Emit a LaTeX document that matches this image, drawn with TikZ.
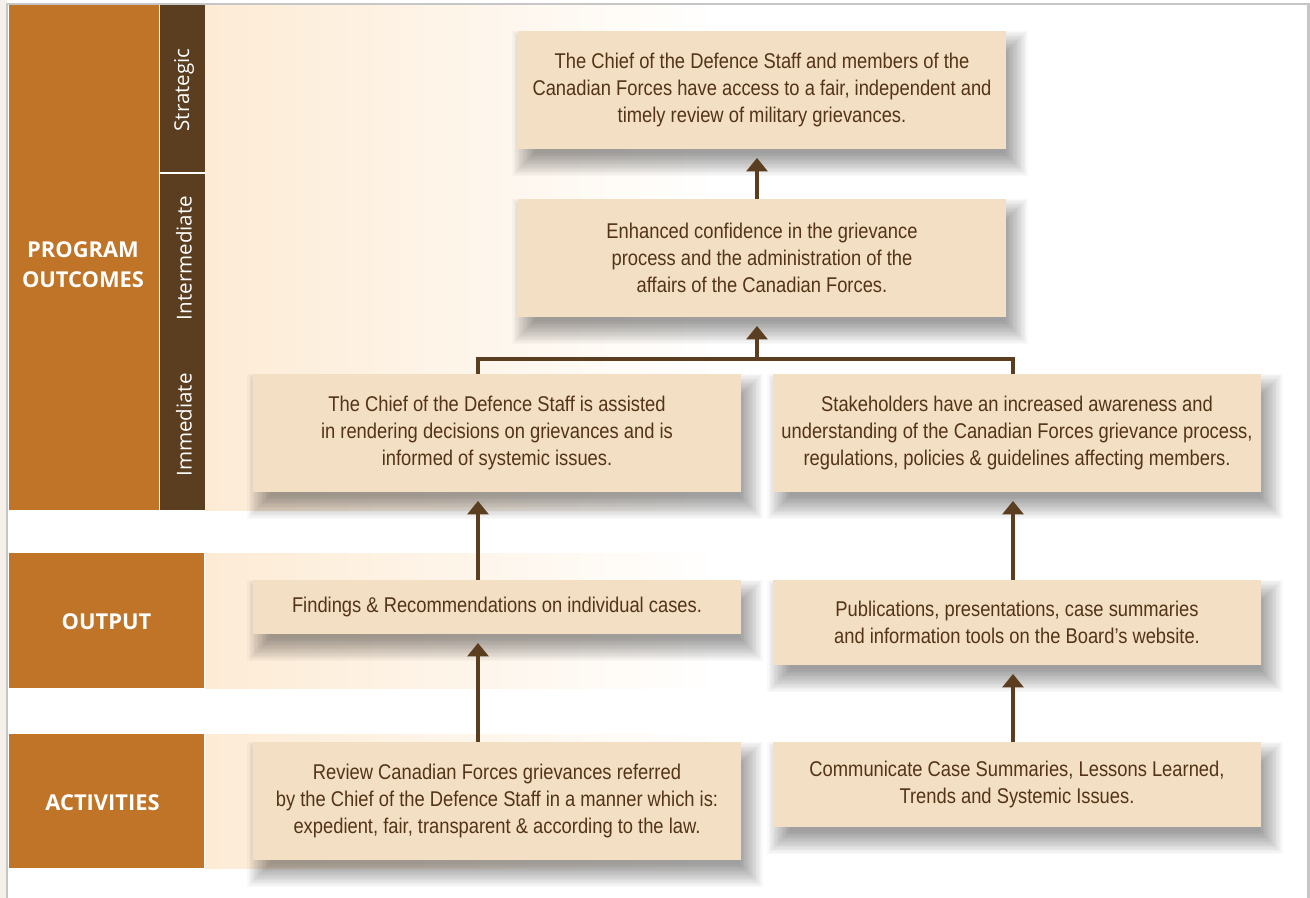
\documentclass[tikz,border=0pt]{standalone}
\usepackage{fontspec}
\setmainfont[FakeStretch=0.86]{Liberation Sans}
\newfontfamily\labfont{Open Sans}
\usetikzlibrary{arrows.meta}
\definecolor{orng}{HTML}{C07428}
\definecolor{brwn}{HTML}{5B3D20}
\definecolor{cream}{HTML}{FDEBD5}
\definecolor{boxfill}{HTML}{F3DFC4}
\definecolor{txt}{HTML}{533417}
\definecolor{framegray}{HTML}{C6C6C6}
\definecolor{outside}{HTML}{F6F0EA}
\pgfdeclarelayer{bg}
\pgfdeclarelayer{shd}
\pgfsetlayers{bg,shd,main}
\newcommand\boxshadow[1]{%
  \foreach \r in {0,1,...,17}{%
    \fill[black,fill opacity=0.024]
      ([xshift={6pt-(\r-7)*1pt}, yshift={-10pt-(\r-7)*1pt}]#1.south west) rectangle
      ([xshift={6pt+(\r-7)*1pt}, yshift={-10pt+(\r-7)*1pt}]#1.north east);}}
\begin{document}
\begin{tikzpicture}[x=0.75pt,y=-0.75pt,
  box/.style={fill=boxfill, text=txt, align=center, minimum width=366pt, inner sep=0pt,
    font=\fontsize{16}{20.25}\selectfont},
  boldlab/.style={text=white, align=center, font=\labfont\bfseries\fontsize{16.4}{22.5}\selectfont},
  rotlab/.style={text=white, rotate=90, font=\labfont\fontsize{15.4}{18}\selectfont},
  arr/.style={draw=brwn, line width=3pt, -{Triangle[width=15.5pt,length=10pt]}, shorten >=6.5pt},
  conn/.style={draw=brwn, line width=3pt, line join=miter}]
\useasboundingbox (0,0) rectangle (1310,898);
\begin{pgfonlayer}{bg}
% background
\fill[white] (0,0) rectangle (1310,898);
\fill[outside] (0,0) rectangle (7,898);
% row bands
\fill[orng] (9,5) rectangle (159,510);
\fill[brwn] (160,5) rectangle (205,172);
\fill[brwn] (160,174) rectangle (205,510);
\shade[left color=cream, right color=white] (205,5) rectangle (720,510);
\fill[orng] (9,553) rectangle (204,688);
\shade[left color=cream, right color=white] (205,553) rectangle (720,688);
\fill[orng] (9,734) rectangle (204,868);
\shade[left color=cream, right color=white] (205,734) rectangle (720,868);
% frame
\draw[framegray, line width=1.6pt] (7,898) -- (7,4) -- (1308.5,4) -- (1308.5,898);
\end{pgfonlayer}
% labels
\node[boldlab] (lprog) at (83,265) {PROGRAM\\OUTCOMES};
\node[boldlab] (lout) at (106.5,622) {OUTPUT};
\node[boldlab] (lact) at (102.5,803) {ACTIVITIES};
\node[rotlab] (lstrat) at (184,90) {Strategic};
\node[rotlab] (linter) at (184,258) {Intermediate};
\node[rotlab] (limm) at (184,425) {Immediate};
% boxes
\node[box, minimum height=88.5pt] (strat) at (762,90) {The Chief of the Defence Staff and members of the\\Canadian Forces have access to a fair, independent and\\timely review of military grievances.};
\node[box, minimum height=88.5pt] (inter) at (762,258) {Enhanced confidence in the grievance\\process and the administration of the\\affairs of the Canadian Forces.};
\node[box, minimum height=88.5pt] (immL) at (497,433) {The Chief of the Defence Staff is assisted\\in rendering decisions on grievances and is\\informed of systemic issues.};
\node[box, minimum height=88.5pt] (immR) at (1017,433) {Stakeholders have an increased awareness and\\understanding of the Canadian Forces grievance process,\\regulations, policies \& guidelines affecting members.};
\node[box, minimum height=40.5pt] (outL) at (497,607) {Findings \& Recommendations on individual cases.};
\node[box, minimum height=63.75pt] (outR) at (1017,622.5) {Publications, presentations, case summaries\\and information tools on the Board’s website.};
\node[box, minimum height=88.5pt] (actL) at (497,801) {Review Canadian Forces grievances referred\\by the Chief of the Defence Staff in a manner which is:\\expedient, fair, transparent \& according to the law.};
\node[box, minimum height=63.75pt] (actR) at (1017,784.5) {Communicate Case Summaries, Lessons Learned,\\Trends and Systemic Issues.};
% shadows
\begin{pgfonlayer}{shd}
\boxshadow{strat}\boxshadow{inter}\boxshadow{immL}\boxshadow{immR}
\boxshadow{outL}\boxshadow{outR}\boxshadow{actL}\boxshadow{actR}
\end{pgfonlayer}
% connector columns
\coordinate (cl) at (478,0);
\coordinate (cr) at (1013,0);
\coordinate (cm) at (757,0);
\coordinate (brk) at (757,359.5);
% connectors
\draw[arr] (inter.north -| cm) -- (strat.south -| cm);
\draw[conn] (immL.north -| cl) -- (cl |- brk) -- (cr |- brk) -- (immR.north -| cr);
\draw[arr] (brk) -- (inter.south -| cm);
\draw[arr] (outL.north -| cl) -- (immL.south -| cl);
\draw[arr] (outR.north -| cr) -- (immR.south -| cr);
\draw[arr] (actL.north -| cl) -- (outL.south -| cl);
\draw[arr] (actR.north -| cr) -- (outR.south -| cr);
\end{tikzpicture}
\end{document}
